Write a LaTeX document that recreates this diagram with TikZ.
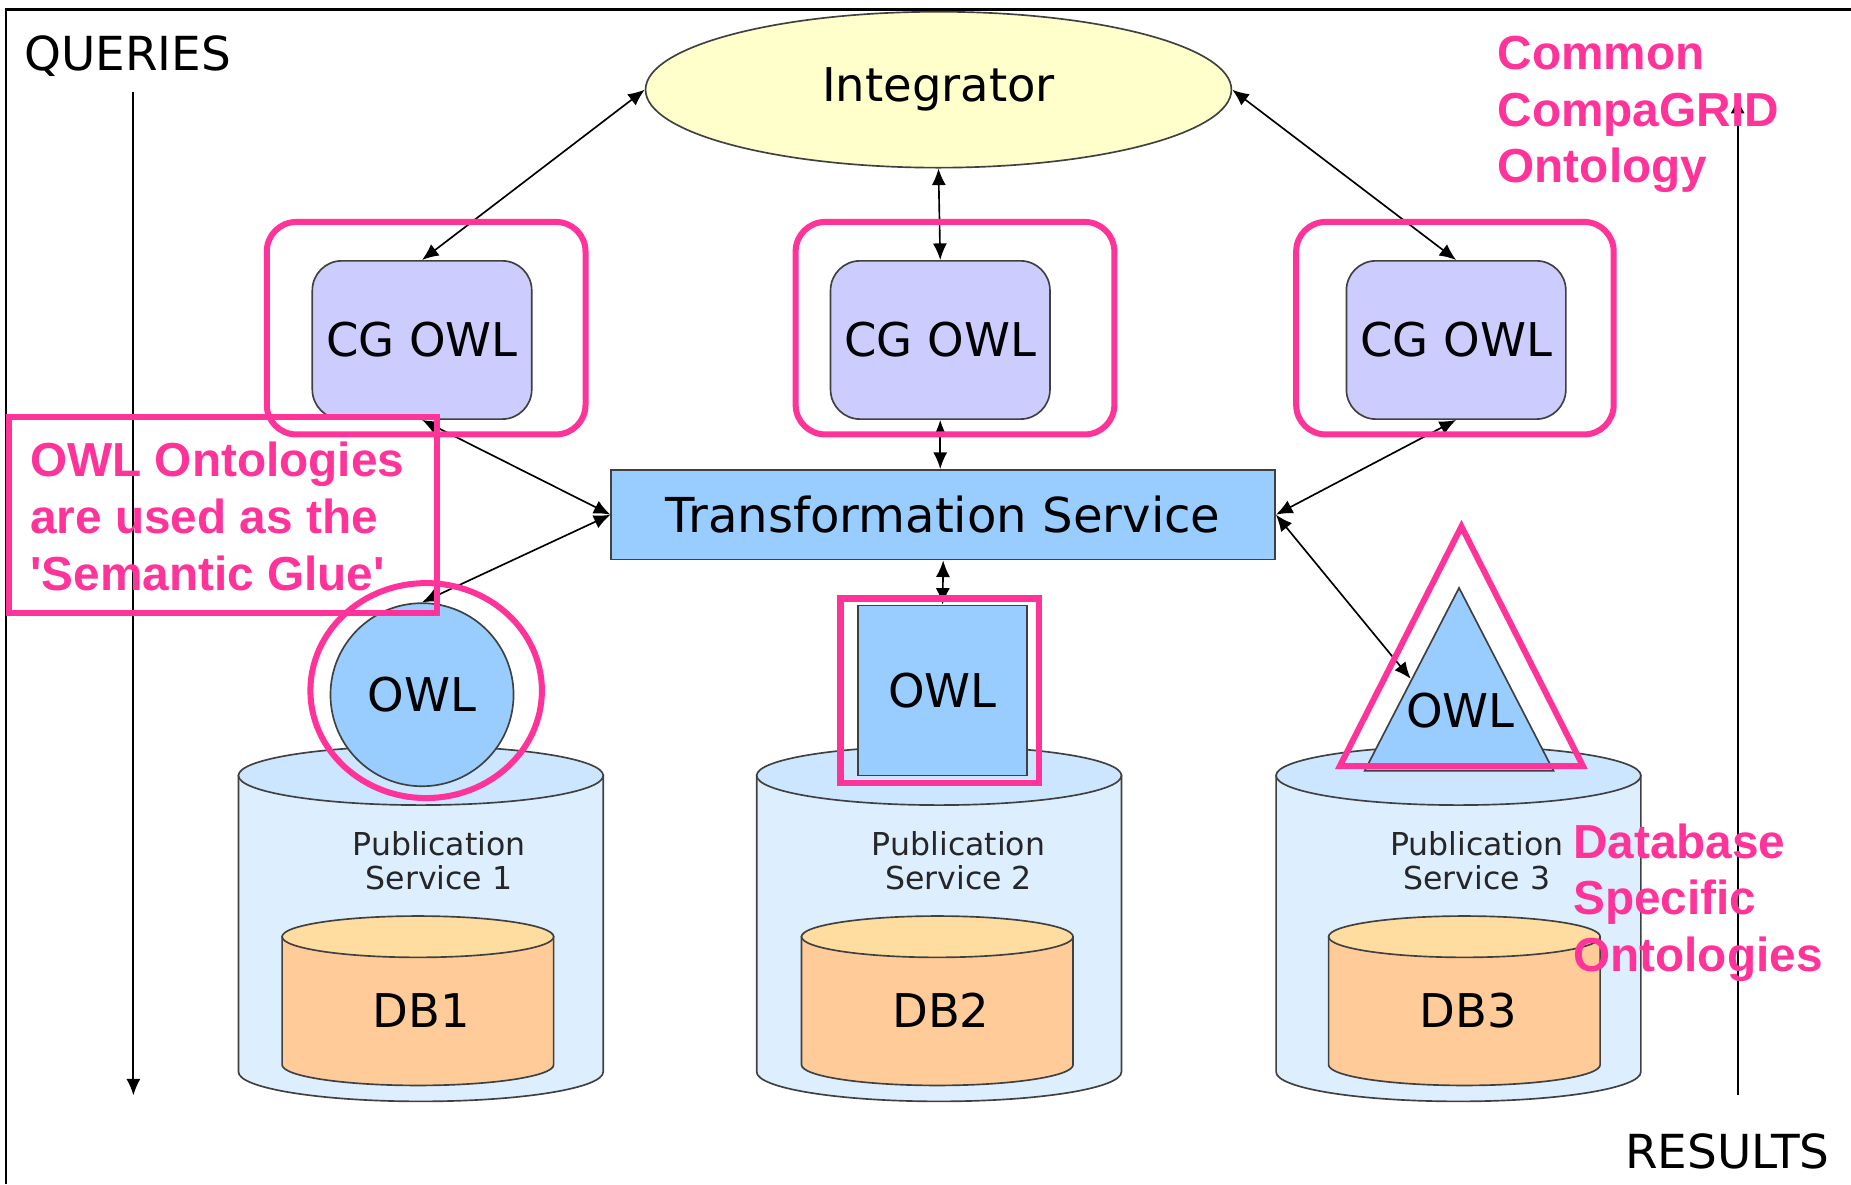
\documentclass[tikz,border=0pt]{standalone}
\usepackage{fontspec}
\setmainfont{DejaVu Sans}
\newfontfamily\notefont{Liberation Sans}
\usetikzlibrary{shapes.geometric,arrows.meta}
\definecolor{integfill}{RGB}{255,255,204}
\definecolor{cgfill}{RGB}{204,204,255}
\definecolor{svcfill}{RGB}{153,204,255}
\definecolor{pubbody}{RGB}{221,238,255}
\definecolor{pubtop}{RGB}{204,230,255}
\definecolor{dbbody}{RGB}{255,204,153}
\definecolor{dbtop}{RGB}{255,221,160}
\definecolor{hilite}{RGB}{255,51,153}
\begin{document}
\begin{tikzpicture}[x=0.01cm, y=-0.01cm,
  every node/.style={font=\fontsize{11.2}{13.4}\selectfont, text=black},
  outline/.style={draw=black!75, line width=0.4pt},
  cgbox/.style={outline, rectangle, rounded corners=0.25cm, fill=cgfill, minimum width=1.79cm, minimum height=1.34cm},
  link/.style={<->, >={Latex[length=4pt,width=3.4pt]}, line width=0.4pt},
  axis/.style={->, >={Latex[length=4pt,width=3.4pt]}, line width=0.45pt},
  pinkline/.style={draw=hilite, line width=1.45pt},
  note/.style={font=\fontsize{11.5}{13.65}\notefont\bfseries, text=hilite, align=left, anchor=north west, inner sep=0pt},
  pubtext/.style={font=\fontsize{7.6}{8.3}\selectfont, align=center, text=black!85},
  sidetext/.style={anchor=base west, inner sep=0pt, font=\fontsize{11.3}{13}\selectfont},
]
\providecommand{\dbcyl}[7]{%
  \filldraw[outline, fill=#6] (#1-#2,#3) -- (#1-#2,#4)
    arc[start angle=180, end angle=360, x radius=#2*0.01cm, y radius=#5*0.01cm]
    -- (#1+#2,#3) -- cycle;
  \filldraw[outline, fill=#7] (#1,#3) ellipse [x radius=#2*0.01cm, y radius=#5*0.01cm];
}
% Page and frame
\fill[white] (0,0) rectangle (1568,1003);
\useasboundingbox (0,0) rectangle (1568,1003);
\draw[line width=0.55pt] (5,1003) -- (5,8) -- (1568,8);
% Queries and results
\node[sidetext] (queries) at (20,60) {QUERIES};
\node[sidetext] (results) at (1376,990) {RESULTS};
\coordinate (qtop) at (113,78);
\coordinate (qbot) at (113,928);
\coordinate (rbot) at (1472,928);
\coordinate (rtop) at (1472,82);
\draw[axis] (qtop) -- (qbot);
\draw[axis] (rbot) -- (rtop);
% Publication services
\dbcyl{356.5}{154.5}{657}{908}{25}{pubbody}{pubtop}
\dbcyl{795.5}{154.5}{657}{908}{25}{pubbody}{pubtop}
\dbcyl{1235.5}{154.5}{657}{908}{25}{pubbody}{pubtop}
\node[pubtext] (pub1) at (372,729) {Publication\\Service 1};
\node[pubtext] (pub2) at (812,729) {Publication\\Service 2};
\node[pubtext] (pub3) at (1251,729) {Publication\\Service 3};
% Databases
\dbcyl{354}{115}{793.5}{902}{17.5}{dbbody}{dbtop}
\dbcyl{794}{115}{793.5}{902}{17.5}{dbbody}{dbtop}
\dbcyl{1240.5}{115}{793.5}{902}{17.5}{dbbody}{dbtop}
\node (db1) at (357,856) {DB1};
\node (db2) at (797,856) {DB2};
\node (db3) at (1244,856) {DB3};
% Database specific ontologies
\node[outline, circle, fill=svcfill, minimum size=1.55cm] (owl1) at (357.5,588.5) {OWL};
\node[outline, rectangle, fill=svcfill, minimum width=1.43cm, minimum height=1.44cm] (owl2) at (798.5,585) {OWL};
\filldraw[outline, fill=svcfill] (1236,498) -- (1316,653) -- (1156,653) -- cycle;
\node (owl3) at (1237,602) {OWL};
\coordinate (owl3w) at (1195,575);
% Integrator, common ontology, transformation
\node[outline, ellipse, fill=integfill, minimum width=4.96cm, minimum height=1.32cm] (integ) at (795,76) {Integrator};
\node[cgbox] (cg1) at (357.5,288) {CG OWL};
\node[cgbox] (cg2) at (796.5,288) {CG OWL};
\node[cgbox] (cg3) at (1233.5,288) {CG OWL};
\node[outline, rectangle, fill=svcfill, minimum width=5.62cm, minimum height=0.76cm, font=\fontsize{11.6}{14}\selectfont] (trans) at (799,436) {Transformation Service};
% Connectors
\draw[link] (integ.west) -- (cg1.north);
\draw[link] (integ.south) -- (cg2.north);
\draw[link] (integ.east) -- (cg3.north);
\draw[link] (cg1.south) -- (trans.west);
\draw[link] (owl1.north) -- (trans.west);
\draw[link] (cg2.south) -- (cg2.south |- trans.north);
\draw[link] (cg3.south) -- (trans.east);
\draw[link] (trans.south) -- (owl2.north);
\draw[link] (trans.east) -- (owl3w);
% Highlights
\draw[pinkline, rounded corners=0.25cm] (226,188) rectangle (496,368);
\draw[pinkline, rounded corners=0.25cm] (674,188) rectangle (944,368);
\draw[pinkline, rounded corners=0.25cm] (1098,188) rectangle (1367,368);
\draw[pinkline] (8,353) rectangle (370,519);
\draw[pinkline] (361,585) ellipse [x radius=0.98cm, y radius=0.91cm];
\draw[pinkline] (712,507) rectangle (880,663);
\draw[pinkline, line join=miter] (1238,446) -- (1341,649) -- (1135,649) -- cycle;
% Notes
\node[note] (common) at (1268,30) {Common\\CompaGRID\\Ontology};
\node[note] (glue) at (25,374) {OWL Ontologies\\are used as the\\'Semantic Glue'};
\node[note] (dbspec) at (1332,697) {Database\\Specific\\Ontologies};
\end{tikzpicture}
\end{document}
